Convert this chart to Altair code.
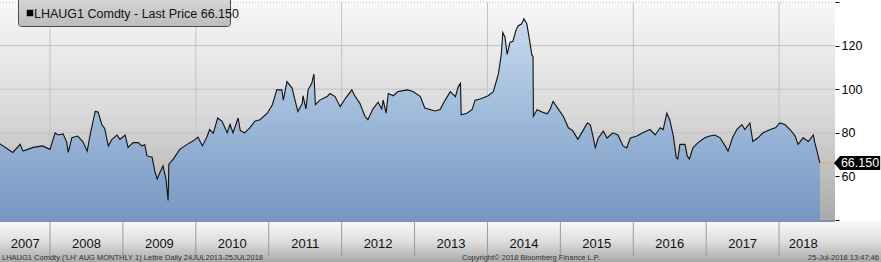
import altair as alt
import pandas as pd

# ---- data (decimal year, price) ----
years = (
    [2007.31, 2007.49, 2007.59, 2007.63, 2007.77, 2007.90]
    + [2008.00, 2008.07, 2008.11, 2008.18, 2008.23, 2008.25, 2008.30, 2008.38, 2008.45, 2008.51, 2008.55, 2008.62, 2008.66, 2008.71, 2008.75, 2008.80, 2008.85, 2008.92, 2008.96]
    + [2009.03, 2009.07, 2009.14, 2009.21, 2009.26, 2009.30, 2009.33, 2009.40, 2009.44, 2009.47, 2009.51, 2009.55, 2009.59, 2009.62, 2009.63, 2009.69, 2009.78, 2009.88, 2009.96]
    + [2010.03, 2010.09, 2010.15, 2010.19, 2010.24, 2010.30, 2010.36, 2010.43, 2010.47, 2010.51, 2010.58, 2010.61, 2010.67, 2010.74, 2010.81, 2010.88, 2010.98]
    + [2011.05, 2011.11, 2011.18, 2011.20, 2011.25, 2011.32, 2011.36, 2011.40, 2011.46, 2011.47, 2011.51, 2011.54, 2011.59, 2011.62, 2011.64, 2011.70, 2011.80, 2011.84, 2011.91, 2011.98]
    + [2012.05, 2012.14, 2012.18, 2012.25, 2012.32, 2012.36, 2012.43, 2012.50, 2012.55, 2012.57, 2012.61, 2012.64, 2012.71, 2012.77, 2012.90, 2012.98]
    + [2013.08, 2013.14, 2013.21, 2013.28, 2013.35, 2013.42, 2013.49, 2013.56, 2013.60, 2013.63, 2013.64, 2013.72, 2013.79, 2013.83, 2013.90]
    + [2014.01, 2014.08, 2014.15, 2014.19, 2014.21, 2014.24, 2014.27, 2014.31, 2014.35, 2014.39, 2014.42, 2014.47, 2014.50, 2014.54, 2014.57, 2014.61, 2014.625, 2014.63, 2014.68, 2014.75, 2014.82, 2014.86, 2014.90, 2014.97]
    + [2015.04, 2015.11, 2015.17, 2015.24, 2015.31, 2015.37, 2015.41, 2015.43, 2015.48, 2015.52, 2015.59, 2015.64, 2015.72, 2015.79, 2015.86, 2015.91, 2015.96]
    + [2016.05, 2016.13, 2016.23, 2016.30, 2016.37, 2016.41, 2016.46, 2016.50, 2016.55, 2016.59, 2016.61, 2016.64, 2016.71, 2016.74, 2016.77, 2016.82, 2016.89, 2016.98]
    + [2017.05, 2017.12, 2017.19, 2017.26, 2017.30, 2017.36, 2017.42, 2017.49, 2017.53, 2017.60, 2017.64, 2017.71, 2017.78, 2017.88, 2017.95]
    + [2018.01, 2018.08, 2018.15, 2018.22, 2018.26, 2018.33, 2018.40, 2018.47, 2018.49, 2018.52, 2018.56]
)
prices = (
    [75, 71, 74.7, 71.6, 73.3, 74]
    + [72.4, 80, 79, 79.5, 75.6, 71, 77.8, 78.5, 76, 71.6, 79, 89.8, 89.5, 83.8, 82, 74, 77, 79, 77]
    + [79, 73.3, 75.5, 75.5, 74, 74.5, 69.4, 68.8, 62, 58.8, 62, 64.8, 58.8, 49, 65.6, 67.9, 72.4, 74.7, 76.2]
    + [78, 74, 78, 81.5, 79.8, 86.8, 85.3, 80, 83.8, 80, 86.8, 81, 80, 82.3, 85.3, 86, 89]
    + [92.9, 99.7, 99.7, 95, 103.5, 100.5, 95, 89.8, 93.5, 97, 91, 99.7, 102.7, 107, 92.9, 95, 96.6, 98, 96.6, 92]
    + [95.7, 99.7, 97, 93.5, 87.6, 86, 91, 94, 91, 95, 89, 98, 97, 98.9, 99.7, 98.9]
    + [96.6, 91.4, 90.7, 90, 90.7, 95, 98.9, 96.6, 101.2, 102.7, 88.3, 89, 90.7, 95, 95.5]
    + [97, 98.9, 107, 116, 126, 124, 116, 121.6, 122, 127, 129, 130, 132.3, 130, 124, 115.6, 115, 87.6, 90.6, 89.5, 88.7, 90.8, 94.4, 91]
    + [87.6, 82.3, 81, 77, 81, 84.5, 83.8, 81, 73.2, 77.6, 80.8, 77.6, 80, 79, 74, 73, 77.6]
    + [78.5, 80, 81.5, 79, 82.3, 81.5, 89, 86, 78.5, 68.6, 68, 74.7, 74.7, 69.4, 68, 73.2, 75.5, 77.7]
    + [78.5, 79, 77.7, 74, 71.6, 77.6, 81.5, 83.8, 81.5, 84.5, 76, 77.7, 80, 81.5, 82.3]
    + [84.5, 83.8, 81.5, 78.5, 74.7, 77.7, 76, 79, 75.5, 71.6, 66.15]
)
last_price = 66.15
last_year = 2018.56

year_boundaries = [2008, 2009, 2010, 2011, 2012, 2013, 2014, 2015, 2016, 2017, 2018]
grid_years = [2008, 2010, 2012, 2014, 2016, 2018]
grid_prices = [60, 80, 100, 120]
tick_prices = [40, 60, 80, 100, 120, 140]
label_pos = [2007.66, 2008.5, 2009.5, 2010.5, 2011.5, 2012.5, 2013.5, 2014.5, 2015.5, 2016.5, 2017.5, 2018.33]
label_text = ["2007", "2008", "2009", "2010", "2011", "2012", "2013", "2014", "2015", "2016", "2017", "2018"]

legend_text = "LHAUG1 Comdty - Last Price 66.150"
footer_left = "LHAUG1 Comdty ('LH' AUG MONTHLY 1) Lettre  Daily 24JUL2013-25JUL2018"
footer_mid = "Copyright© 2018 Bloomberg Finance L.P."
footer_right = "25-Jul-2018 13:47:46"

FONT = "Liberation Sans"
W, H = 835, 218

df = pd.DataFrame({"t": years, "price": prices})
one = pd.DataFrame({"k": [0]})

xs = alt.Scale(domain=[2007.314, 2018.767], nice=False, zero=False)
ys = alt.Scale(domain=[40, 140], nice=False, zero=False)

yaxis = alt.Axis(
    orient="right",
    values=tick_prices,
    labelExpr="datum.value == 40 || datum.value == 140 ? '' : datum.label",
    title=None,
    grid=False,
    domain=False,
    ticks=True,
    tickColor="#000000",
    tickSize=4,
    tickWidth=1,
    labelPadding=2,
    labelFont=FONT,
    labelFontSize=12.5,
    labelColor="#000000",
)


def grad(stops):
    return alt.Gradient(
        gradient="linear",
        stops=[alt.GradientStop(color=c, offset=o) for o, c in stops],
        x1=0, x2=0, y1=0, y2=1,
    )


bg = alt.Chart(one).mark_rect(
    color=grad([(0, "#f7f7f7"), (0.5, "#dadada"), (1, "#aaaaaa")])
).encode(x=alt.value(0), x2=alt.value(W), y=alt.value(0), y2=alt.value(H))

vgrid = alt.Chart(pd.DataFrame({"g": grid_years})).mark_rule(
    color="#c2c2c2", strokeWidth=1
).encode(x=alt.X("g:Q", scale=xs, axis=None))

hgrid = alt.Chart(pd.DataFrame({"price": grid_prices})).mark_rule(
    color="#c2c2c2", strokeWidth=1
).encode(y=alt.Y("price:Q", scale=ys, axis=yaxis))

topgrid = alt.Chart(pd.DataFrame({"price": [140]})).mark_rule(
    color="#bdbdbd", strokeWidth=1, strokeDash=[1, 2]
).encode(y=alt.Y("price:Q", scale=ys, axis=yaxis))

area = alt.Chart(df).mark_area(
    color=grad([(0, "#c6daf0"), (1, "#7597c2")]), interpolate="linear"
).encode(
    x=alt.X("t:Q", scale=xs, axis=None),
    y=alt.Y("price:Q", scale=ys, axis=yaxis),
    y2=alt.Y2Datum(40),
)

line = alt.Chart(df).mark_line(color="#111111", strokeWidth=1.1).encode(
    x=alt.X("t:Q", scale=xs, axis=None),
    y=alt.Y("price:Q", scale=ys, axis=yaxis),
)

lastdf = pd.DataFrame({"t": [last_year], "price": [last_price]})

lastline = alt.Chart(lastdf).mark_rule(color="#d8b24a", strokeWidth=1).encode(
    x=alt.X("t:Q", scale=xs, axis=None), x2=alt.value(W),
    y=alt.Y("price:Q", scale=ys, axis=yaxis),
)

band = alt.Chart(one).mark_rect(
    color=grad([(0, "#f9f9f9"), (0.5, "#dedede"), (1, "#a9a9a9")])
).encode(x=alt.value(0), x2=alt.value(881), y=alt.value(219), y2=alt.value(260))

bandtop = alt.Chart(one).mark_rule(color="#4f6f98", strokeWidth=1.5).encode(
    x=alt.value(0), x2=alt.value(W), y=alt.value(219)
)

seps = alt.Chart(pd.DataFrame({"b": year_boundaries})).mark_rule(
    color="#9a9a9a", strokeWidth=1
).encode(x=alt.X("b:Q", scale=xs, axis=None), y=alt.value(220), y2=alt.value(254))

ylabels = alt.Chart(pd.DataFrame({"p": label_pos, "s": label_text})).mark_text(
    font=FONT, fontSize=13, color="#111111", baseline="middle", align="center"
).encode(x=alt.X("p:Q", scale=xs, axis=None), y=alt.value(242), text="s:N")


def footer(txt, xpx, align):
    return alt.Chart(pd.DataFrame({"s": [txt]})).mark_text(
        font=FONT, fontSize=7.5, color="#333333", baseline="middle", align=align
    ).encode(x=alt.value(xpx), y=alt.value(255.5), text="s:N")


f1 = footer(footer_left, 2, "left")
f2 = footer(footer_mid, 462, "left")
f3 = footer(footer_right, 879, "right")

legbox = alt.Chart(one).mark_rect(
    color=grad([(0, "#d6d6d6"), (1, "#bcbcbc")]),
    stroke="#4a4a4a", strokeWidth=1, cornerRadius=3,
).encode(x=alt.value(18.5), x2=alt.value(230.5), y=alt.value(-4), y2=alt.value(24.5))

legsym = alt.Chart(one).mark_square(size=42, color="#000000", opacity=1).encode(
    x=alt.value(30), y=alt.value(11)
)

legtext = alt.Chart(pd.DataFrame({"s": [legend_text]})).mark_text(
    font=FONT, fontSize=12.5, color="#111111", baseline="middle", align="left"
).encode(x=alt.value(34), y=alt.value(12), text="s:N")

tag = alt.Chart(lastdf).mark_point(
    shape="M 0 0 L 0.86 -1 L 6.6 -1 L 6.6 1 L 0.86 1 Z",
    size=196, filled=True, color="#000000", opacity=1, strokeWidth=0,
).encode(x=alt.value(834), y=alt.Y("price:Q", scale=ys, axis=yaxis))

tagtext = alt.Chart(lastdf.assign(s=["66.150"])).mark_text(
    font=FONT, fontSize=12.5, color="#ffffff", baseline="middle", align="center"
).encode(x=alt.value(860), y=alt.Y("price:Q", scale=ys, axis=yaxis), text="s:N")

chart = alt.layer(
    bg, vgrid, hgrid, topgrid, area, line, lastline,
    band, bandtop, seps, ylabels, f1, f2, f3,
    legbox, legsym, legtext, tag, tagtext,
).properties(
    width=W, height=H,
    autosize=alt.AutoSizeParams(type="none"),
    padding={"left": 0, "top": 2, "right": 46, "bottom": 42},
    background="#ffffff",
).configure_view(stroke=None)

chart.save("out.html", embed_options={"renderer": "svg", "actions": False})
